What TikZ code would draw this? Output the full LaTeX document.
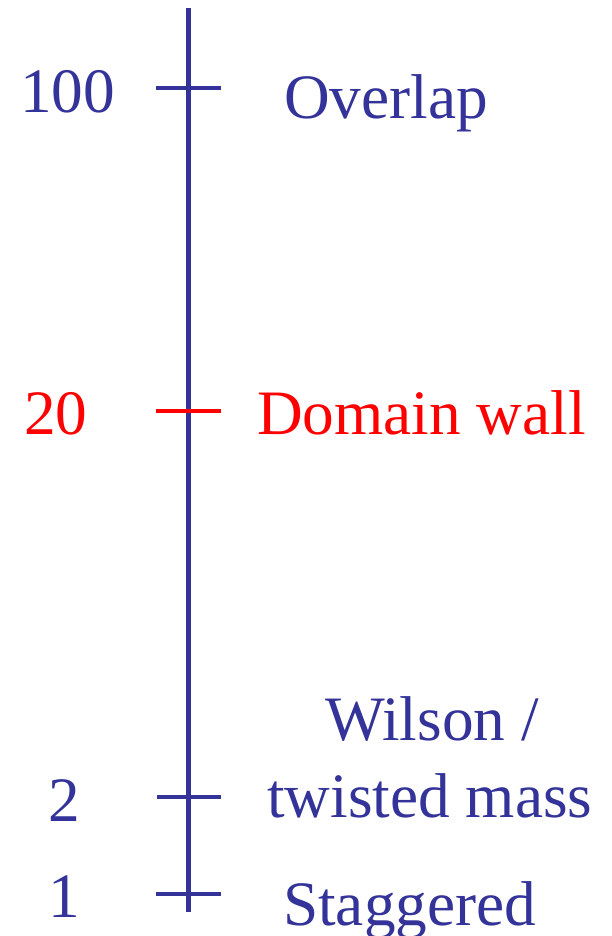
\documentclass[tikz,border=0pt]{standalone}
\usepackage{fontspec}
\setmainfont{Liberation Serif}
\definecolor{axisblue}{RGB}{51,51,153}
\definecolor{dwred}{RGB}{255,0,0}
\tikzset{
  axisline/.style={draw=axisblue, line width=5bp},
  tickline/.style={line width=4bp},
  lab/.style={anchor=base west, inner sep=0pt, font=\fontsize{63.5}{70}\selectfont, text=axisblue},
  redlab/.style={lab, text=dwred}
}
\begin{document}
\begin{tikzpicture}[x=1bp,y=-1bp]
\useasboundingbox (0,0) rectangle (612,936);
\coordinate (top) at (188,8);
\coordinate (bot) at (188,912);
\draw[axisline] (top) -- (bot);
% ticks
\coordinate (t100l) at (156,88);  \coordinate (t100r) at (221,88);
\coordinate (t20l) at (156,411);  \coordinate (t20r) at (221,411);
\coordinate (t2l) at (157,797);   \coordinate (t2r) at (221,797);
\coordinate (t1l) at (156,894);   \coordinate (t1r) at (221,894);
\draw[tickline, axisblue] (t100l) -- (t100r);
\draw[tickline, dwred] (t20l) -- (t20r);
\draw[tickline, axisblue] (t2l) -- (t2r);
\draw[tickline, axisblue] (t1l) -- (t1r);
% labels
\node[lab] (n100) at (20,112) {100};
\node[lab] (overlap) at (284,118) {Overlap};
\node[redlab] (n20) at (24,434) {20};
\node[redlab] (dw) at (257,434) {Domain wall};
\node[lab] (wilson) at (325,740) {Wilson /};
\node[lab] (twisted) at (267,817) {twisted mass};
\node[lab] (n2) at (48,821) {2};
\node[lab] (n1) at (48,917) {1};
\node[lab] (stag) at (283,925) {Staggered};
\end{tikzpicture}
\end{document}
